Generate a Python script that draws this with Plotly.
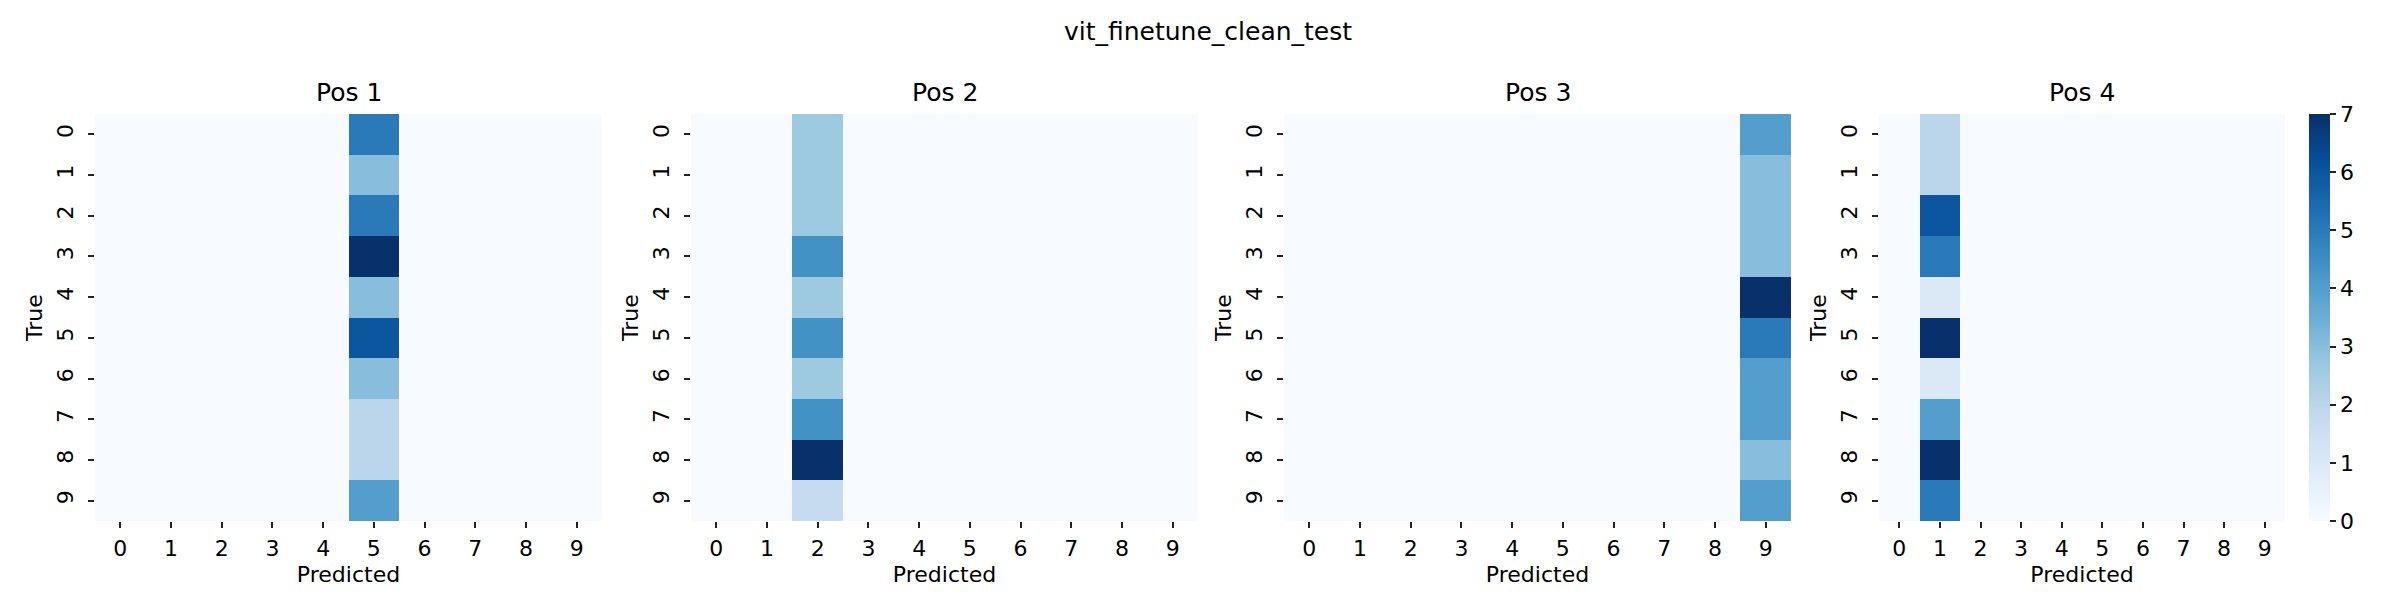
import plotly.graph_objects as go

# confusion matrix counts per position; each matrix has a single non-zero column
classes = [str(i) for i in range(10)]
pos_titles = ["Pos 1", "Pos 2", "Pos 3", "Pos 4"]
pred_cols = [5, 2, 9, 1]
pos1_counts = [5, 3, 5, 7, 3, 6, 3, 2, 2, 4]
pos2_counts = [3, 3, 3, 5, 3, 5, 3, 5, 8, 2]
pos3_counts = [4, 3, 3, 3, 7, 5, 4, 4, 3, 4]
pos4_counts = [2, 2, 6, 5, 1, 7, 1, 4, 7, 5]
all_counts = [pos1_counts, pos2_counts, pos3_counts, pos4_counts]

blues = [
    [0.0, "#f7fbff"], [0.125, "#deebf7"], [0.25, "#c6dbef"],
    [0.375, "#9ecae1"], [0.5, "#6baed6"], [0.625, "#4292c6"],
    [0.75, "#2171b5"], [0.875, "#08519c"], [1.0, "#08306b"],
]

W, H = 2400, 600
x_px = [(87, 594), (683, 1190), (1276, 1783), (1871, 2277)]
y_dom = [1 - 513 / H, 1 - 106 / H]
font = "DejaVu Sans"
tick_font = dict(family=font, size=22, color="#000")

fig = go.Figure()
layout = {}

for i in range(4):
    z = [[0] * 10 for _ in range(10)]
    for r, v in enumerate(all_counts[i]):
        z[r][pred_cols[i]] = v
    n = "" if i == 0 else str(i + 1)
    last = i == 3
    fig.add_trace(go.Heatmap(
        z=z,
        x=list(range(10)),
        y=list(range(10)),
        colorscale=blues,
        zmin=0,
        zmax=max(all_counts[i]),
        showscale=last,
        xaxis="x" + n,
        yaxis="y" + n,
        colorbar=dict(
            x=2301 / W, xanchor="left", xref="paper", xpad=0,
            y=y_dom[0], yanchor="bottom", ypad=0,
            len=y_dom[1] - y_dom[0], lenmode="fraction",
            thickness=21, thicknessmode="pixels",
            outlinewidth=0,
            tickvals=list(range(8)),
            ticks="outside", ticklen=6, tickwidth=1.7, tickcolor="#222",
            tickfont=tick_font,
        ) if last else None,
    ))
    layout["xaxis" + n] = dict(
        domain=[x_px[i][0] / W, x_px[i][1] / W],
        anchor="y" + n,
        range=[-0.5, 9.5],
        tickvals=list(range(10)),
        ticktext=classes,
        ticks="outside", ticklen=6, tickwidth=1.7, tickcolor="#222",
        ticklabelstandoff=2,
        showgrid=False, zeroline=False, showline=False,
        tickfont=tick_font,
        title=dict(text="Predicted", standoff=6, font=tick_font),
    )
    layout["yaxis" + n] = dict(
        domain=y_dom,
        anchor="x" + n,
        range=[9.5, -0.5],
        tickvals=list(range(10)),
        ticktext=classes,
        tickangle=-90,
        ticks="outside", ticklen=6, tickwidth=1.7, tickcolor="#222",
        ticklabelstandoff=6,
        showgrid=False, zeroline=False, showline=False,
        tickfont=tick_font,
        title=dict(text="True", standoff=4, font=tick_font),
    )

annotations = []
for i, t in enumerate(pos_titles):
    annotations.append(dict(
        text=t, xref="paper", yref="paper",
        x=(x_px[i][0] + x_px[i][1]) / 2 / W, y=1 - 84 / H,
        xanchor="center", yanchor="middle", showarrow=False,
        font=dict(family=font, size=25, color="#000"),
    ))

fig.update_layout(
    width=W, height=H,
    margin=dict(l=0, r=0, t=0, b=0),
    paper_bgcolor="white",
    plot_bgcolor="white",
    title=dict(text="vit_finetune_clean_test", x=0.5, xanchor="center",
               y=1 - 23 / H, yanchor="middle",
               font=dict(family=font, size=25, color="#000")),
    annotations=annotations,
    **layout,
)

fig.write_html("out.html")
